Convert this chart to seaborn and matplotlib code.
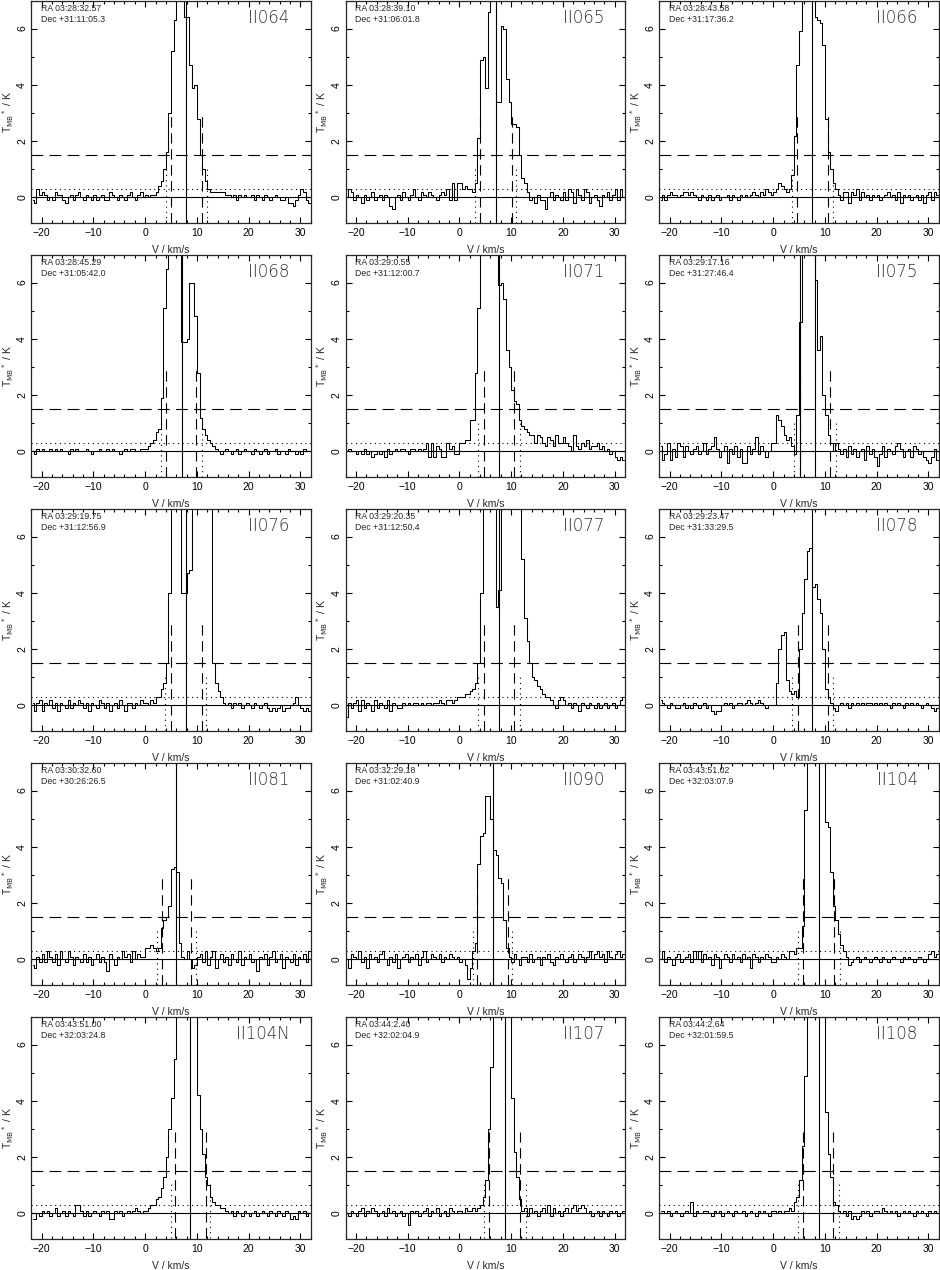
import numpy as np
import matplotlib
matplotlib.use("Agg")
import matplotlib.pyplot as plt
from matplotlib.ticker import MultipleLocator
import seaborn as sns

# channel grid: 0.5 km/s channels from -22 to 32 km/s
V_START = -22.0
V_STEP = 0.5

# source names and positions
names = ["II064", "II065", "II066", "II068", "II071", "II075", "II076", "II077",
         "II078", "II081", "II090", "II104", "II104N", "II107", "II108"]
ra = ["03:28:32.57", "03:28:39.10", "03:28:43.58", "03:28:45.29", "03:29:0.55",
      "03:29:17.16", "03:29:19.75", "03:29:20.35", "03:29:23.47", "03:30:32.60",
      "03:32:29.18", "03:43:51.02", "03:43:51.00", "03:44:2.40", "03:44:2.64"]
dec = ["+31:11:05.3", "+31:06:01.8", "+31:17:36.2", "+31:05:42.0", "+31:12:00.7",
       "+31:27:46.4", "+31:12:56.9", "+31:12:50.4", "+31:33:29.5", "+30:26:26.5",
       "+31:02:40.9", "+32:03:07.9", "+32:03:24.8", "+32:02:04.9", "+32:01:59.5"]

# spectra in units of 0.1 K (rows: -22..0, 0..10, 10..20, 20..32 km/s)
T_II064 = [-1, -2, 3, 1, 2, 1, -1, 0, -1, 2, 1, 1, -1, -2, 0, 1, -1, 1, 2, 0, -1, 1,
           0, -1, 1, -1, 0, 1, -1, -1, 2, 1, 0, -1, 1, 0, -1, 1, 2, 0, -1, 1, 2, 0,
           1, 0, 1, 1, 2, 4, 6, 10, 16, 30, 52, 63, 90, 95, 90, 64, 64, 47, 39, 40,
           28, 15, 10, 6, 3, 2, 2, 2, 2, 2, 2, 1, 1, 0, 1, -1, 1, 0, 1, 0,
           0, 1, -1, 1, 0, -1, 1, 0, -1, 0, 1, 0, -1, -1, 0, -2, -2, -3, -1, 1, 3, 2, -1, -2]
T_II065 = [0, 3, 2, -1, 1, 0, -2, 1, -1, 0, 2, -1, 0, 1, -1, 1, 0, -3, -4, 0, 1, -1,
           2, 0, -1, 1, 3, 0, -1, 2, 1, 0, 2, 1, 0, -1, 1, 2, 1, 3, -1, 5, -1, 5,
           5, 3, 4, 3, 3, 2, 5, 21, 49, 50, 39, 66, 85, 80, 34, 34, 61, 60, 42, 34,
           26, 26, 25, 15, 7, 5, 2, -1, 0, -2, 1, -1, -1, -4, 0, 2, -1, 1, 0, -1,
           2, -1, 3, 2, -2, 3, 1, -1, 3, 2, -2, 0, 1, -1, -3, 1, 0, 2, -1, 1, 3, -1, 3, 0]
T_II066 = [-1, 1, -1, 1, 2, 1, 1, 0, 1, 2, 2, 1, 2, 1, 0, -1, 1, 0, -1, 1, -1, 0,
           1, -1, 0, 0, 1, -1, 1, 0, -1, 1, 0, 1, 0, 1, 2, 1, 0, 2, 1, 3, 2, 1,
           2, 3, 5, 4, 3, 2, 3, 8, 22, 47, 59, 75, 90, 95, 90, 70, 64, 63, 62, 54,
           28, 16, 10, 5, 3, 1, -1, 2, 2, -2, 2, 1, 3, -1, 2, 0, 1, -1, 1, 0,
           1, -1, 0, 1, 2, 0, 1, -1, 2, -2, 1, 0, 1, -1, 0, 1, -1, 1, -2, 1, 2, -1, 2, 1]
T_II068 = [0, -1, 1, 0, 1, 0, 0, 1, 0, 1, 0, 1, 0, 0, -1, 1, 0, 1, 0, 0, 0, 1,
           0, -1, 0, 0, 1, 0, 0, 1, 0, 1, 0, 0, -1, 0, 1, 0, 1, 1, 0, 0, 1, 1,
           1, 2, 3, 4, 7, 8, 19, 51, 65, 80, 90, 95, 90, 80, 39, 39, 40, 60, 60, 48,
           28, 12, 8, 6, 4, 3, 2, 1, 0, -1, 0, 1, 0, -1, 0, 1, -1, 0, 1, 0,
           0, -1, 1, 0, -1, 0, 1, -1, 0, 0, 1, -1, 0, 0, -1, 1, 0, 0, -1, 0, -1, 1, 0, 0]
T_II071 = [0, 1, 0, 0, -1, 0, -1, 1, -1, 0, -2, -1, 0, -1, 0, -2, 1, -1, 0, 1, 0, 1,
           1, 0, -1, 1, 1, 0, 1, 0, 1, 3, -2, 3, -2, 2, 1, -2, -2, 3, 1, 2, -1, -1,
           3, 3, 4, 4, 11, 11, 28, 51, 85, 95, 100, 100, 95, 90, 80, 59, 60, 54, 36, 30,
           22, 18, 17, 11, 9, 8, 7, 6, 6, 3, 6, 5, 3, 2, 5, 4, 2, 6, 3, 3,
           5, 3, 2, 0, 6, 2, 1, 3, 2, 4, 1, 2, 2, 3, 1, 2, 0, 1, -1, 0, -2, -3, -2, -3]
T_II075 = [2, -3, -1, 3, -3, 1, -2, 3, 2, -2, 2, 0, -1, 1, 2, -1, 0, 3, -1, 1, 2, 5,
           1, -2, 0, 2, -4, 1, -1, 2, -2, 1, -4, -4, 2, -1, 1, 5, -1, 2, 0, -2, 0, 3,
           3, 13, 11, 9, 6, 4, 5, 2, -1, 13, 46, 90, 100, 100, 95, 85, 61, 36, 41, 20,
           13, 6, 3, 0, 3, 1, -1, 1, -2, 2, -1, 1, -2, 0, 1, -3, 2, -1, 1, -2,
           -5, -1, 2, -2, 1, 0, -1, 2, 3, 1, -2, 0, 1, -2, 2, 1, -1, 0, -2, -3, -4, -2, 1, -3]
T_II076 = [1, -2, 1, 2, -2, 1, 0, 2, -1, 1, -2, 1, 0, -1, 2, -1, 1, 0, 2, 1, -1, 1,
           -2, 1, 0, -1, 2, 1, -1, 1, -2, 0, 1, -1, 2, 0, -2, 1, 1, -1, 1, 0, 2, 1,
           1, 0, 2, 1, 3, 3, 6, 8, 15, 40, 85, 100, 100, 100, 40, 40, 47, 48, 90, 100,
           110, 110, 110, 100, 95, 80, 15, 8, 5, 3, 1, 0, 1, -1, 1, 0, 1, -1, 0, 1,
           0, -1, 1, 0, -1, 0, 1, -1, -2, -1, -2, -1, 0, -2, -1, -1, 0, 1, 3, 0, -1, -2, -1, -2]
T_II077 = [-4, 1, -1, 1, 2, -2, 2, -1, 1, 0, -2, 2, -1, 1, 0, -1, 2, -2, 1, 0, -1, -1,
           1, 0, 1, 0, 1, 1, 0, 1, 0, 1, 1, 0, 1, 1, 2, 1, 0, 2, 2, 1, 2, 3,
           3, 3, 4, 4, 5, 6, 8, 15, 40, 80, 100, 100, 100, 90, 35, 41, 90, 100, 110, 110,
           110, 110, 110, 80, 52, 31, 23, 15, 10, 9, 7, 6, 4, 3, 3, 2, 0, -1, 2, 3,
           2, 0, 1, -1, 1, 0, -2, 1, 0, -1, 1, 0, -1, 1, -1, 0, 1, -1, 0, 1, -1, 0, 2, 3]
T_II078 = [2, 1, 0, -1, 1, 0, -1, -1, 0, 1, -1, 0, -1, 1, 0, -1, 0, 1, -1, 0, -2, -3,
           -2, -2, 0, 1, 0, 1, -1, 0, 1, 1, 0, 1, 2, 1, 0, 1, 2, 1, 0, -1, 0, 0,
           0, 8, 20, 25, 26, 9, 5, 4, 5, 3, 20, 33, 45, 55, 56, 42, 43, 38, 33, 20,
           6, 3, 1, -1, -2, 0, 1, 0, 1, -1, 1, 0, 1, 0, 1, 0, 1, 1, 0, 1,
           0, 1, 0, 1, 0, -1, 1, 0, 1, 0, -1, 1, 0, 1, 0, 1, 0, -1, 0, 1, 0, -1, -2, -1]
T_II081 = [-2, -3, 1, -1, 2, -1, 3, 1, -1, 2, -2, 3, 0, -1, 3, 1, -2, 1, 0, -1, 2, -1,
           1, -2, 0, 2, -1, 1, -1, -4, 2, 0, -2, 1, 0, 3, 1, 2, -1, 3, 0, 2, 1, 1,
           4, 4, 5, 4, 3, 4, 11, 14, 15, 19, 32, 33, 31, 6, 1, 0, 3, 0, -3, -2,
           1, 2, -1, 3, -2, 1, 3, -3, 0, 2, -1, 1, -2, 2, 0, -1, 3, -2, 1, 0,
           2, -1, 0, -4, 1, 0, 2, -2, 1, 3, -1, 0, 2, -3, 1, 0, -1, 2, -2, 1, 0, 2, -1, 3]
T_II090 = [0, -3, 2, 1, 0, 3, -1, 1, -3, 2, 0, 1, -1, 2, 3, 0, -2, 1, -1, 2, -3, 0,
           1, 2, -1, 1, 0, 2, -2, 1, 3, -1, 0, 2, 1, 0, 2, -1, 1, 0, 2, 1, 0, 1,
           -1, 0, -2, -7, -3, 3, 6, 34, 44, 45, 58, 58, 50, 39, 37, 29, 27, 14, 4, 1,
           -1, 2, 0, -2, 1, 1, -1, 2, -1, 0, 1, -2, 1, 0, 2, -1, -2, 1, 0, 2,
           0, -1, 1, 2, -1, 0, 2, 1, -1, 1, 3, 0, 2, 3, 1, 2, -1, 3, 1, 0, 2, 3, 1, 2]
T_II104 = [0, 3, -1, 1, 0, -2, 1, 2, -1, 0, 1, 2, -1, 3, 0, 3, -1, 2, 0, 1, -2, 2,
           1, -3, 0, 2, 1, -1, 2, 0, 1, -1, 2, 0, 1, -3, 2, 1, -1, 1, 0, 2, 1, -1,
           -1, 1, 0, 2, 1, 0, 3, 3, 2, 4, 4, 12, 53, 85, 100, 110, 110, 110, 100, 85,
           49, 47, 31, 19, 14, 9, 5, 3, 1, -2, -1, 0, 1, -1, 0, 1, 0, -1, 0, 1,
           0, -1, 1, 0, -1, 0, 1, 0, 0, -1, 1, 0, 1, 0, -1, 0, 1, 0, -1, 0, 2, 3, 1, 2]
T_II104N = [-2, -2, 0, -1, 1, 0, 1, -1, 0, 2, -1, 0, 1, -1, 1, 0, -1, 3, 3, 1, -1, 1,
            -1, 0, 1, 0, -1, 1, 0, 1, -2, -2, 1, 0, 1, -1, 0, 1, 0, 1, 2, 1, 0, 1,
            1, 2, 3, 3, 5, 6, 9, 13, 20, 30, 41, 55, 80, 95, 100, 100, 95, 90, 80, 75,
            42, 30, 21, 13, 10, 6, 4, 3, 3, 2, 2, 1, 0, 1, -1, 1, 0, -1, 1, 0,
            -1, 0, 1, -1, 0, 1, 0, -1, 1, 0, -1, 1, 0, -1, 1, 0, -2, -1, -2, 1, 0, 1, -1, 0]
T_II107 = [0, -1, 1, 0, -1, 1, 2, -1, 1, 0, 2, 1, -1, 0, 1, -1, 2, 0, 1, -1, 0, 1,
           -1, 0, -4, 1, 0, 1, -1, 0, 1, 2, -1, 1, 0, 2, -1, 0, 1, -1, 2, 1, 0, 1,
           1, 0, 2, 1, 1, 2, 1, 2, 3, 6, 12, 30, 52, 80, 100, 110, 110, 105, 95, 75,
           41, 22, 13, 5, 1, 2, -1, 2, 0, 1, -1, 1, 2, 0, 3, -1, 2, 0, 1, -1,
           1, 2, 0, 2, 3, 1, 2, 3, 2, 0, 1, -1, 0, 1, -1, 1, 0, -1, 1, 0, 1, -1, 0, 1]
T_II108 = [1, 1, 0, 1, -1, 0, 1, 0, -1, 0, 1, 0, 4, -1, 1, 0, 0, 1, 1, 0, -1, 1,
           0, 1, -1, 0, 1, 0, -1, 1, 0, 0, 1, -1, 0, 1, 0, -1, 1, 0, 1, 0, -1, 1,
           1, 0, 1, 0, 1, 1, 2, 1, 4, 6, 12, 24, 49, 80, 100, 110, 110, 105, 100, 85,
           36, 21, 13, 4, 3, 1, 0, 1, -1, 1, -2, -1, -2, -1, 1, 0, 1, -1, 0, 1,
           1, 0, 2, 1, 0, 1, 0, 1, -1, 0, 1, 0, 1, 0, -1, 1, 0, 1, 0, -1, 1, 0, 1, 0]

spectra = [T_II064, T_II065, T_II066, T_II068, T_II071, T_II075, T_II076, T_II077,
           T_II078, T_II081, T_II090, T_II104, T_II104N, T_II107, T_II108]

# systemic velocity (solid), dashed and dotted marker velocities, km/s
v_solid = [[7.96], [7.08], [7.46], [7.08], [7.6], [5.1, 8.1], [7.8], [7.67],
           [7.5], [6.0], [6.5], [8.9], [8.7], [8.8], [8.9]]
v_dashed = [[5.0, 10.9], [3.9, 10.1], [4.57, 10.5], [4.04, 9.9], [4.7, 10.5],
            [5.1, 11.0], [4.9, 10.9], [4.8, 10.55], [4.8, 10.6], [3.2, 8.95],
            [3.5, 9.4], [5.8, 11.8], [5.7, 11.8], [5.8, 11.7], [5.8, 11.5]]
v_dotted = [[4.0, 11.9], [3.1, 11.0], [3.66, 11.65], [3.1, 11.0], [3.66, 11.65],
            [4.0, 12.05], [3.76, 11.8], [3.6, 11.7], [3.7, 11.5], [2.3, 9.9],
            [2.7, 10.2], [4.8, 13.0], [4.9, 12.6], [4.8, 12.9], [4.8, 12.7]]

T_HALF = 1.5      # dashed horizontal level
T_NOISE = 0.3     # dotted horizontal level
DASH_TOP = 2.9
DOT_TOP = 1.1
YLIM = (-0.89, 6.98)
XLIM = (-22, 32)

sns.set_style("ticks")
plt.rcParams["font.family"] = ["Liberation Sans", "DejaVu Sans"]
plt.rcParams["lines.scale_dashes"] = False
plt.rcParams["axes.linewidth"] = 0.9

fig = plt.figure(figsize=(9.4, 12.7), dpi=100)
W, H = 940.0, 1270.0
col_left = [31.3, 345.5, 659.3]
row_top = [1, 255, 509, 763, 1017]
ax_w, ax_h = 279.5, 221.5

for k, name in enumerate(names):
    r, c = divmod(k, 3)
    ax = fig.add_axes([col_left[c] / W, 1 - (row_top[r] + ax_h) / H, ax_w / W, ax_h / H])

    t = np.array(spectra[k]) / 10.0
    assert len(t) == 108, (name, len(t))
    vel = V_START + V_STEP / 2 + V_STEP * np.arange(len(t))
    sns.lineplot(x=vel, y=t, ax=ax, color="black", linewidth=0.75,
                 drawstyle="steps-mid", estimator=None)

    ax.axhline(0, color="black", lw=0.8)
    ax.axhline(T_HALF, color="black", lw=0.8, ls=(0, (8.5, 4.5)))
    ax.axhline(T_NOISE, color="black", lw=0.8, ls=(0, (0.8, 2.6)))
    for v in v_solid[k]:
        ax.axvline(v, color="black", lw=0.8)
    ax.vlines(v_dashed[k], YLIM[0], DASH_TOP, color="black", lw=0.8,
              linestyles=[(0, (7.5, 4.0))])
    ax.vlines(v_dotted[k], YLIM[0], DOT_TOP, color="black", lw=0.8,
              linestyles=[(0, (0.8, 3.0))])

    ax.set_xlim(*XLIM)
    ax.set_ylim(*YLIM)
    ax.xaxis.set_major_locator(MultipleLocator(10))
    ax.xaxis.set_minor_locator(MultipleLocator(2))
    ax.yaxis.set_major_locator(MultipleLocator(2))
    ax.yaxis.set_minor_locator(MultipleLocator(1))
    ax.tick_params(which="both", direction="in", top=True, right=True,
                   width=0.8, colors="black", labelsize=7.5)
    ax.tick_params(which="major", length=4)
    ax.tick_params(which="minor", length=2)
    ax.tick_params(axis="x", pad=4)
    ax.tick_params(axis="y", labelrotation=90, pad=3)
    for lab in ax.get_yticklabels():
        lab.set_va("center")

    ax.set_xlabel("V / km/s", fontsize=7.5, labelpad=5)
    ax.set_ylabel(r"T$_{\rm MB}$$^*$ / K", fontsize=7.5)
    ax.yaxis.set_label_coords(-0.056, 0.5)

    ax.text(0.033, 0.965, "RA " + ra[k], transform=ax.transAxes, fontsize=6.3,
            ha="left", va="center")
    ax.text(0.033, 0.915, "Dec " + dec[k], transform=ax.transAxes, fontsize=6.3,
            ha="left", va="center")
    ax.text(0.925, 0.922, name, transform=ax.transAxes, fontsize=12,
            ha="right", va="center", color="#333333",
            family=["DejaVu Sans"], fontweight="light")

fig.savefig("out.png", dpi=100)
